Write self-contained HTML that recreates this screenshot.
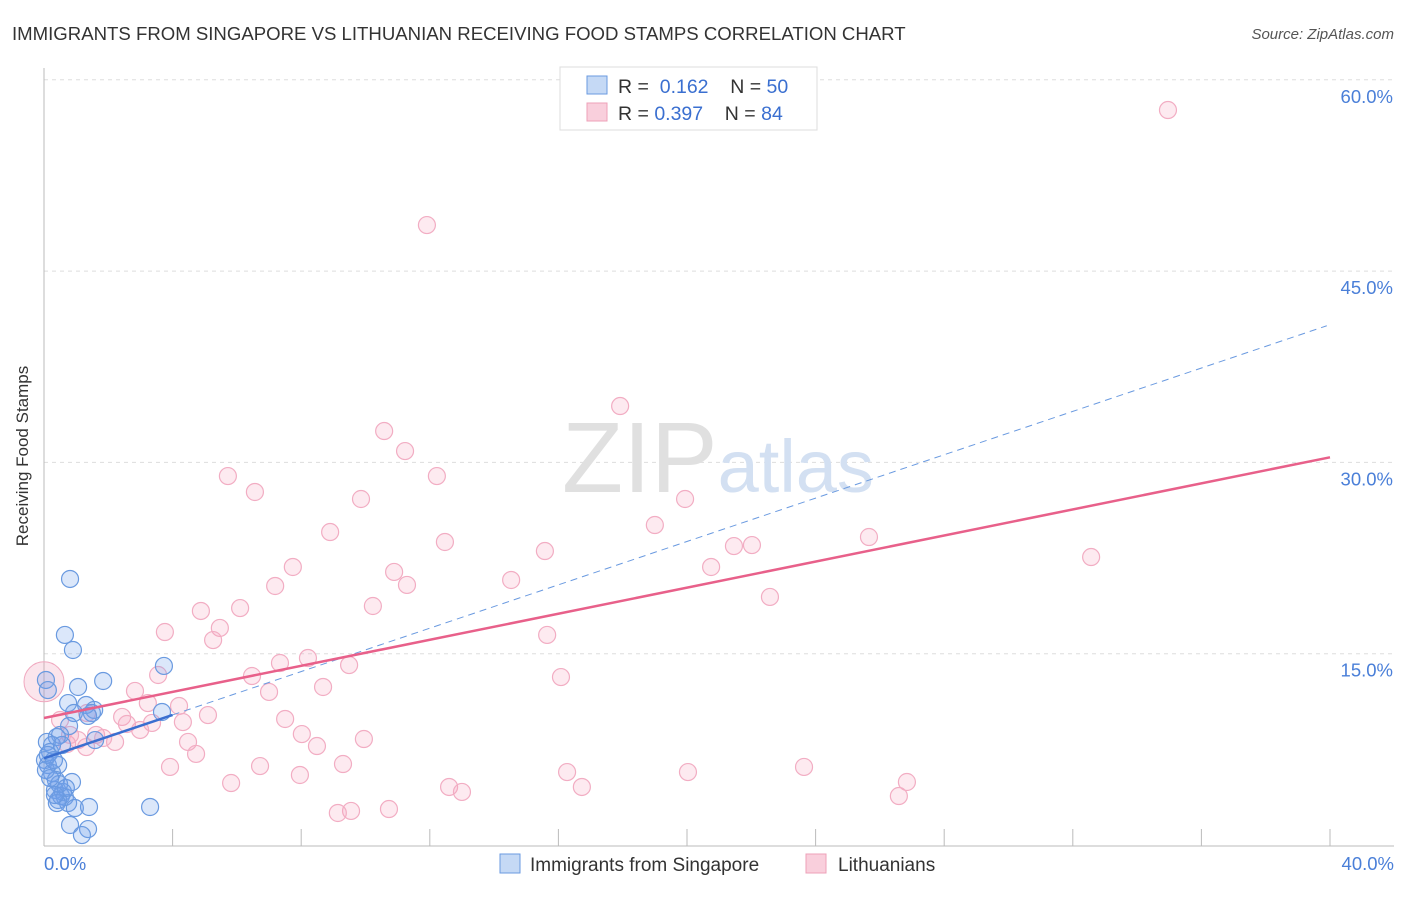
<!DOCTYPE html>
<html><head><meta charset="utf-8"><style>
body{margin:0;background:#fff;font-family:"Liberation Sans",sans-serif}
svg text{font-family:"Liberation Sans",sans-serif}
</style></head><body>
<svg width="1406" height="892" viewBox="0 0 1406 892">
<text x="12" y="40" font-size="18.6" fill="#333">IMMIGRANTS FROM SINGAPORE VS LITHUANIAN RECEIVING FOOD STAMPS CORRELATION CHART</text>
<text x="1394" y="39" font-size="15" fill="#555" font-style="italic" text-anchor="end">Source: ZipAtlas.com</text>
<g id="grid"></g>
<text x="718" y="492" font-size="100" fill="#ddd" text-anchor="middle" font-family="Liberation Serif"><tspan fill="#e0e0e0">ZIP</tspan><tspan fill="#d3e0f2" font-family="Liberation Sans" font-size="74">atlas</tspan></text>
<g id="axes"></g>
<g id="pts"></g>
<g id="lines"></g>
<text x="28" y="456" font-size="17" fill="#333" transform="rotate(-90 28 456)" text-anchor="middle">Receiving Food Stamps</text>
<g>
<rect x="560" y="67" width="257" height="63" fill="#fff" stroke="#ddd"/>
<rect x="587" y="76" width="20" height="18" fill="#c5d9f5" stroke="#6a9ae0"/>
<rect x="587" y="103" width="20" height="18" fill="#f9cfdc" stroke="#eea0b8"/>
<text x="618" y="93" font-size="19.5" fill="#333">R = <tspan fill="#3a6fd0">&#160;0.162</tspan>&#160;&#160;&#160; N = <tspan fill="#3a6fd0">50</tspan></text>
<text x="618" y="120" font-size="19.5" fill="#333">R = <tspan fill="#3a6fd0">0.397</tspan>&#160;&#160;&#160; N = <tspan fill="#3a6fd0">84</tspan></text>
</g>
<g>
<rect x="500" y="854" width="20" height="19" fill="#c5d9f5" stroke="#6a9ae0"/>
<text x="530" y="871" font-size="19" fill="#333">Immigrants from Singapore</text>
<rect x="806" y="854" width="20" height="19" fill="#f9cfdc" stroke="#eea0b8"/>
<text x="838" y="871" font-size="19" fill="#333">Lithuanians</text>
</g>
</svg>
<script>
const NS="http://www.w3.org/2000/svg";
const yTicks=[15,30,45,60];
const yTickLabels=["15.0%","30.0%","45.0%","60.0%"];
const xEnds=["0.0%","40.0%"];
const pinkPx=[[1168,110],[427,225],[620,406],[384,431],[405,451],[228,476],[437,476],[255,492],[361,499],[685,499],[655,525],[330,532],[445,542],[545,551],[869,537],[734,546],[752,545],[1091,557],[293,567],[394,572],[711,567],[511,580],[275,586],[407,585],[770,597],[240,608],[201,611],[373,606],[220,628],[165,632],[213,640],[547,635],[280,663],[308,658],[349,665],[158,675],[252,676],[561,677],[135,691],[269,692],[323,687],[148,703],[179,706],[122,717],[208,715],[87,713],[285,719],[127,724],[183,722],[152,723],[140,730],[96,735],[302,734],[78,740],[317,746],[364,739],[188,742],[115,742],[103,738],[67,744],[86,747],[196,754],[170,767],[260,766],[343,764],[300,775],[567,772],[688,772],[804,767],[231,783],[449,787],[582,787],[462,792],[907,782],[899,796],[351,811],[338,813],[389,809],[60,720],[70,735]];
const bluePx=[[70,579],[65,635],[73,650],[164,666],[103,681],[78,687],[46,680],[48,690],[162,712],[68,703],[86,705],[74,713],[94,710],[92,713],[88,716],[69,726],[60,735],[57,737],[47,742],[52,745],[50,752],[45,760],[48,765],[58,765],[52,773],[56,780],[72,782],[55,790],[63,792],[61,796],[65,797],[58,800],[68,803],[57,803],[75,808],[89,807],[150,807],[70,825],[88,829],[82,835],[48,755],[46,770],[54,760],[59,784],[66,788],[50,778],[62,745],[95,740],[55,795]];
const pinkX=pinkPx.map(p=>+((p[0]-44)/32.15).toFixed(2));
const pinkY=pinkPx.map(p=>+((845-p[1])*15/191.3).toFixed(2));
const blueX=bluePx.map(p=>+((p[0]-44)/32.15).toFixed(2));
const blueY=bluePx.map(p=>+((845-p[1])*15/191.3).toFixed(2));
const pinkTrend=[9.96,30.4];
const blueTrend=[6.8,40.8];
const X=v=>44+v*(1286/40);
const Y=v=>845-v*(191.3/15);
function el(t,a,p){const e=document.createElementNS(NS,t);for(const k in a)e.setAttribute(k,a[k]);p.appendChild(e);return e;}
const grid=document.getElementById('grid'),axes=document.getElementById('axes'),pts=document.getElementById('pts'),lines=document.getElementById('lines');
yTicks.forEach((v,i)=>{
 const l=el('line',{x1:44,x2:1394,y1:Y(v),y2:Y(v),stroke:'#ddd','stroke-dasharray':'4,4'},grid);
 
 
 const t=el('text',{x:1393,y:Y(v)+23,'font-size':18.5,fill:'#4a7fd8','text-anchor':'end'},grid);
 t.textContent=yTickLabels[i];
 
 
});
const ya=el('line',{x1:44,x2:44,y1:68,y2:846,stroke:'#bbb'},axes);


const xa=el('line',{x1:44,x2:1394,y1:846,y2:846,stroke:'#bbb'},axes);


for(let v=4;v<=40;v+=4){const t=el('line',{x1:X(v),x2:X(v),y1:829,y2:846,stroke:'#bbb'},axes);
 
 }
[[0,'start',44],[40,'end',1394]].forEach((d,i)=>{const t=el('text',{x:d[2],y:870,'font-size':18.5,fill:'#4a7fd8','text-anchor':d[1]},axes);t.textContent=xEnds[i];
 
 });
const big=el('circle',{cx:X(0),cy:Y(12.8),r:20,fill:'rgba(240,150,180,0.25)',stroke:'#f0a8bf'},pts);


pinkX.forEach((x,i)=>{const c=el('circle',{cx:X(x),cy:Y(pinkY[i]),r:8.5,fill:'rgba(244,160,188,0.22)',stroke:'#f2adc3','stroke-width':1.2},pts);
 
 });
blueX.forEach((x,i)=>{const c=el('circle',{cx:X(x),cy:Y(blueY[i]),r:8.5,fill:'rgba(110,160,235,0.25)',stroke:'#6a9ae0','stroke-width':1.2},pts);
 
 });
const bd=el('line',{x1:X(4),y1:Y(blueTrend[0]+(blueTrend[1]-blueTrend[0])*0.1),x2:X(39.9),y2:Y(blueTrend[0]+(blueTrend[1]-blueTrend[0])*39.9/40),stroke:'#6a9ae0','stroke-dasharray':'7,5','stroke-width':1},lines);


const bs=el('line',{x1:X(0),y1:Y(blueTrend[0]),x2:X(4),y2:Y(blueTrend[0]+(blueTrend[1]-blueTrend[0])*0.1),stroke:'#3a6fd0','stroke-width':2.5},lines);


const pl=el('line',{x1:X(0),y1:Y(pinkTrend[0]),x2:X(40),y2:Y(pinkTrend[1]),stroke:'#e8608a','stroke-width':2.5},lines);


</script>
</body></html>
